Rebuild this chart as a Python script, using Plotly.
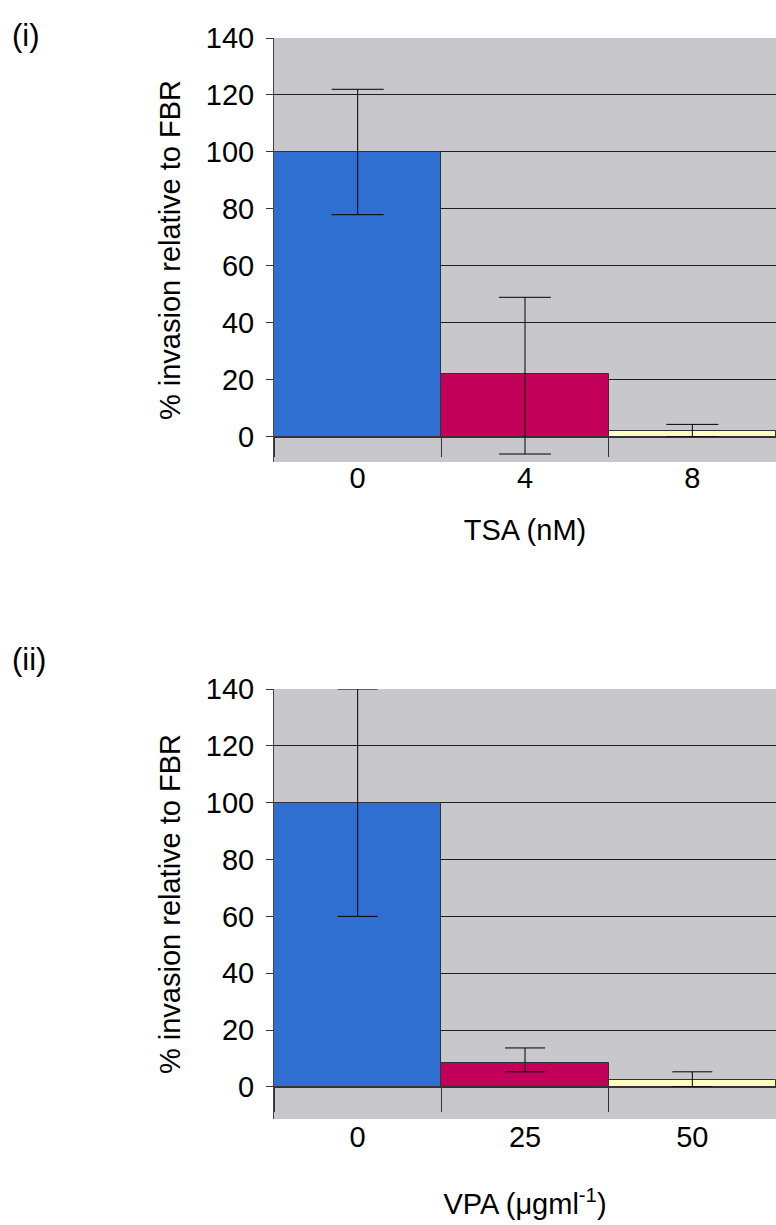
import plotly.graph_objects as go

# ---------------- data ----------------
tsa_labels = ["0", "4", "8"]
tsa_values = [100, 22, 2]
tsa_err_plus = [22, 27, 2.4]
tsa_err_minus = [22, 28, 2.0]

vpa_labels = ["0", "25", "50"]
vpa_values = [100, 8.5, 2.5]
vpa_err_plus = [40, 5.2, 2.8]
vpa_err_minus = [40, 3.2, 2.5]

bar_colors = ["#2F6FD2", "#C2005A", "#FFFFC2"]

# ---------------- layout helpers ----------------
W, H = 776, 1225
ML, MR, MT, MB = 274, 0, 0, 0
PW, PH = W - ML - MR, H - MT - MB


def py(px):
    return 1 - (px - MT) / PH


def pxx(px):
    return (px - ML) / PW


FONT = "Liberation Sans, Arial, sans-serif"

top_dom = [py(462), py(38)]
bot_dom = [py(1119), py(689)]
top_range = [-8.8, 140]
bot_range = [-11.3, 140]


def zero_pos(dom, rng):
    return dom[0] + (dom[1] - dom[0]) * (0 - rng[0]) / (rng[1] - rng[0])


fig = go.Figure()
fig.add_trace(go.Bar(
    x=tsa_labels, y=tsa_values,
    marker=dict(color=bar_colors, line=dict(color="#333333", width=1)),
    error_y=dict(type="data", symmetric=False, array=tsa_err_plus,
                 arrayminus=tsa_err_minus, color="black", thickness=1, width=26),
    xaxis="x", yaxis="y", showlegend=False))
fig.add_trace(go.Bar(
    x=vpa_labels, y=vpa_values,
    marker=dict(color=bar_colors, line=dict(color="#333333", width=1)),
    error_y=dict(type="data", symmetric=False, array=vpa_err_plus,
                 arrayminus=vpa_err_minus, color="black", thickness=1, width=20),
    xaxis="x2", yaxis="y2", showlegend=False))

xcommon = dict(
    type="category", range=[-0.5, 2.5], domain=[0, 1], anchor="free",
    tickson="boundaries", ticks="outside", tickcolor="#333333",
    showline=True, linecolor="#333333", linewidth=1, showgrid=False,
    zeroline=False, tickfont=dict(family=FONT, size=29, color="black"),
    automargin=False,
)
ycommon = dict(
    dtick=20, tick0=0, ticks="outside", ticklen=7, tickcolor="#333333",
    showline=True, linecolor="#444444", linewidth=1,
    showgrid=True, gridcolor="#1e1e1e", gridwidth=1, zeroline=False,
    tickfont=dict(family=FONT, size=29, color="black"),
    ticklabelstandoff=6, automargin=False,
)

fig.update_layout(
    width=W, height=H,
    margin=dict(l=ML, r=MR, t=MT, b=MB, pad=0),
    paper_bgcolor="white", plot_bgcolor="#C8C8CC",
    bargap=0, showlegend=False,
    font=dict(family=FONT, color="black"),
    xaxis=dict(**xcommon, position=zero_pos(top_dom, top_range),
               ticklen=19, ticklabelstandoff=15,
               title=dict(text="TSA (nM)", standoff=26,
                          font=dict(family=FONT, size=29))),
    yaxis=dict(**ycommon, domain=top_dom, range=top_range, anchor="x",
               title=dict(text="% invasion relative to FBR", standoff=16,
                          font=dict(family=FONT, size=29))),
    xaxis2=dict(**xcommon, position=zero_pos(bot_dom, bot_range),
                ticklen=24, ticklabelstandoff=24,
                title=dict(text="VPA (\u03bcgml<sup>-1</sup>)", standoff=42,
                           font=dict(family=FONT, size=29))),
    yaxis2=dict(**ycommon, domain=bot_dom, range=bot_range, anchor="x2",
                title=dict(text="% invasion relative to FBR", standoff=16,
                           font=dict(family=FONT, size=29))),
    annotations=[
        dict(text="(i)", xref="paper", yref="paper", x=pxx(10), y=py(35),
             xanchor="left", yanchor="middle", showarrow=False,
             font=dict(family=FONT, size=31, color="black")),
        dict(text="(ii)", xref="paper", yref="paper", x=pxx(10), y=py(659),
             xanchor="left", yanchor="middle", showarrow=False,
             font=dict(family=FONT, size=31, color="black")),
    ],
)

fig.write_html("out.html")
